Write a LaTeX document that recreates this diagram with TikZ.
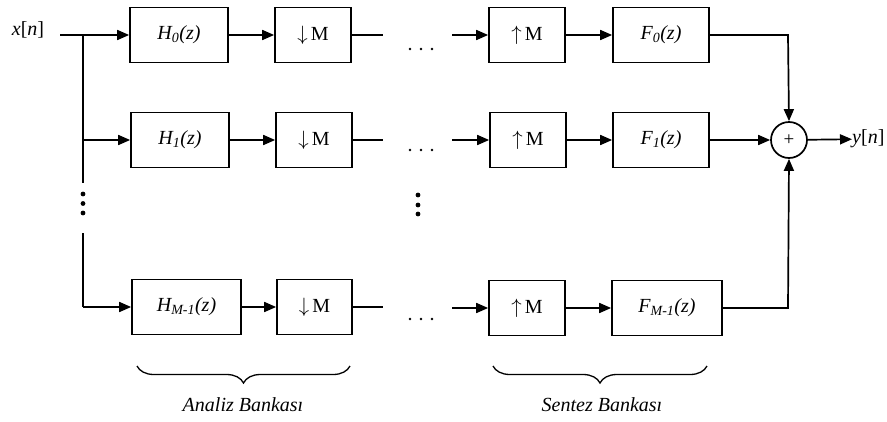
\documentclass[tikz,border=0pt]{standalone}
\usepackage{fontspec}
\setmainfont{Liberation Serif}
\usetikzlibrary{arrows.meta,decorations.pathreplacing}
\begin{document}
\begin{tikzpicture}[x=1pt,y=-1pt,
  font=\fontsize{20}{22}\selectfont,
  blk/.style={draw, line width=1.7pt, inner sep=0pt, minimum height=55pt},
  wire/.style={line width=1.7pt},
  arr/.style={wire, -{Triangle[length=12pt,width=10pt]}},
  dotc/.style={fill=black},
  brc/.style={line width=1.3pt, decorate, decoration={brace, amplitude=17pt}}]
\useasboundingbox (0,0) rectangle (887,421);
% row 0
\node[blk, minimum width=98pt] (H0) at (179,35) {\textit{H\textsubscript{0}(z)}};
\node[blk, minimum width=76pt] (D0) at (313,35) {$\downarrow$\,M};
\node[blk, minimum width=76pt] (U0) at (527,35) {$\uparrow$\,M};
\node[blk, minimum width=96pt] (F0) at (661,35) {\textit{F\textsubscript{0}(z)}};
% row 1
\node[blk, minimum width=98pt] (H1) at (180,140) {\textit{H\textsubscript{1}(z)}};
\node[blk, minimum width=76pt] (D1) at (314,140) {$\downarrow$\,M};
\node[blk, minimum width=76pt] (U1) at (528,140) {$\uparrow$\,M};
\node[blk, minimum width=96pt] (F1) at (661,140) {\textit{F\textsubscript{1}(z)}};
% row 2
\node[blk, minimum width=109pt] (H2) at (186.5,307) {\textit{H\textsubscript{M-1}(z)}};
\node[blk, minimum width=75pt] (D2) at (314.5,307) {$\downarrow$\,M};
\node[blk, minimum width=76pt] (U2) at (527,308) {$\uparrow$\,M};
\node[blk, minimum width=110pt] (F2) at (667,308) {\textit{F\textsubscript{M-1}(z)}};
% sum
\node[draw, circle, line width=1.7pt, minimum size=36pt, inner sep=0pt, font=\fontsize{19}{19}\selectfont] (S) at (789,140) {+};
% io labels
\node (x) at (28,30) {\textit{x}[\textit{n}]};
\node[anchor=west, inner sep=0pt] (y) at (852,139) {\textit{y}[\textit{n}]};
% coordinates
\coordinate (xin) at (60,35);
\coordinate (j0) at (83,35);
\coordinate (j1) at (83,140);
\coordinate (jt) at (83,183);
\coordinate (jb) at (83,233);
\coordinate (j2) at (83,307);
\coordinate (e0) at (383,35);
\coordinate (e1) at (383,140);
\coordinate (e2) at (383,307);
\coordinate (s0) at (452,35);
\coordinate (s1) at (452,140);
\coordinate (s2) at (452,308);
\coordinate (c0) at (788,35);
\coordinate (c2) at (788,308);
% wires
\draw[arr] (xin) -- (H0);
\draw[wire] (j0) -- (jt);
\draw[arr] (j1) -- (H1);
\draw[wire] (jb) -- (j2);
\draw[arr] (j2) -- (H2);
\draw[arr] (H0) -- (D0);
\draw[arr] (H1) -- (D1);
\draw[arr] (H2) -- (D2);
\draw[wire] (D0) -- (e0);
\draw[wire] (D1) -- (e1);
\draw[wire] (D2) -- (e2);
\draw[arr] (s0) -- (U0);
\draw[arr] (s1) -- (U1);
\draw[arr] (s2) -- (U2);
\draw[arr] (U0) -- (F0);
\draw[arr] (U1) -- (F1);
\draw[arr] (U2) -- (F2);
\draw[arr] (F0.east) -- (c0) -- (S.north);
\draw[arr] (F1) -- (S);
\draw[arr] (F2.east) -- (c2) -- (S.south);
\draw[arr] (S) -- (y);
% dots
\foreach \yy in {194,203.5,213} {\fill[dotc] (83,\yy) circle (2.4pt);}
\foreach \yy in {195,205,214} {\fill[dotc] (418,\yy) circle (2.4pt);}
\foreach \yy in {49,150,319} {\foreach \xx in {410,421,432} {\fill[dotc] (\xx,\yy) circle (1.4pt);}}
% braces
\draw[brc] (350,366) -- (137,366);
\draw[brc] (707,366) -- (493,366);
\node (la) at (243,405) {\textit{Analiz Bankası}};
\node (ls) at (602,405) {\textit{Sentez Bankası}};
\end{tikzpicture}
\end{document}
